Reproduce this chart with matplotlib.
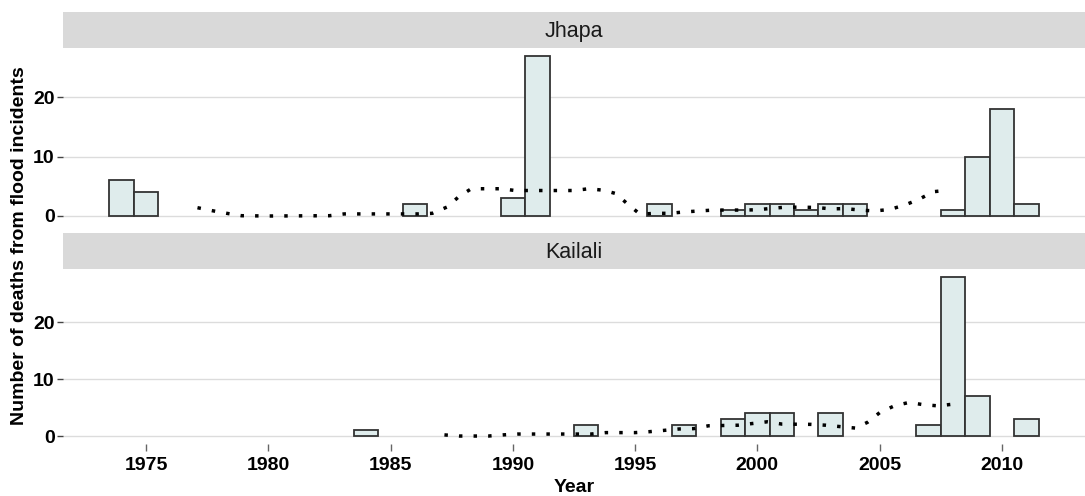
import matplotlib
matplotlib.use('Agg')
import matplotlib.pyplot as plt

plt.rcParams['font.family'] = ['Liberation Sans', 'DejaVu Sans']

# Deaths per year
jhapa_years = [1974, 1975, 1986, 1990, 1991, 1996, 1999, 2000, 2001, 2002, 2003, 2004, 2008, 2009, 2010, 2011]
jhapa_deaths = [6, 4, 2, 3, 27, 2, 1, 2, 2, 1, 2, 2, 1, 10, 18, 2]

kailali_years = [1984, 1993, 1997, 1999, 2000, 2001, 2003, 2007, 2008, 2009, 2011]
kailali_deaths = [1, 2, 2, 3, 4, 4, 4, 2, 28, 7, 3]

# Dotted trend lines
jhapa_trend_x = [1977.1, 1977.7, 1978.3, 1978.9, 1980.0, 1982.5, 1983.1, 1986.1, 1986.7,
                 1987.3, 1987.8, 1988.3, 1989.5, 1990.1, 1992.5, 1993.1, 1993.7, 1994.2,
                 1994.7, 1995.2, 1995.8, 1996.4, 1997.0, 1997.6, 1998.2, 1999.4, 2000.0,
                 2000.6, 2001.2, 2002.4, 2003.0, 2003.6, 2004.2, 2004.8, 2005.4, 2006.0,
                 2006.6, 2007.2, 2007.8]
jhapa_trend_y = [1.4, 0.9, 0.45, 0.05, 0.0, 0.05, 0.35, 0.35, 0.45,
                 1.5, 3.3, 4.6, 4.6, 4.3, 4.3, 4.6, 4.35, 3.8,
                 2.0, 0.3, 0.45, 0.45, 0.68, 0.85, 1.0, 1.0, 1.05,
                 1.3, 1.5, 1.45, 1.2, 1.25, 1.0, 0.85, 1.1, 1.8,
                 2.8, 4.1, 4.35]

kailali_trend_x = [1987.2, 1987.8, 1989.0, 1989.6, 1990.2, 1992.6, 1993.2, 1993.8, 1995.0,
                   1995.6, 1996.2, 1996.8, 1997.4, 1998.0, 1999.2, 1999.8, 2000.4, 2001.0,
                   2002.2, 2002.8, 2003.4, 2004.0, 2004.5, 2005.0, 2005.6, 2006.2, 2006.8,
                   2007.4, 2008.0]
kailali_trend_y = [0.2, 0.0, 0.0, 0.2, 0.35, 0.35, 0.35, 0.6, 0.6,
                   0.77, 1.0, 1.24, 1.3, 1.8, 1.9, 2.2, 2.5, 2.1,
                   2.05, 1.9, 1.65, 1.4, 2.4, 4.1, 5.3, 5.9, 5.5,
                   5.3, 5.6]

districts = ['Jhapa', 'Kailali']
year_ticks = [1975, 1980, 1985, 1990, 1995, 2000, 2005, 2010]
y_ticks = [0, 10, 20]

W, H = 1085, 496
fig = plt.figure(figsize=(W / 100, H / 100), dpi=100)

# panel boxes in pixels: (top of strip, top of panel, bottom of panel)
panels = [(12, 48, 224), (232.7, 268.7, 444)]
left, right = 63, 1085

data = [(jhapa_years, jhapa_deaths, jhapa_trend_x, jhapa_trend_y),
        (kailali_years, kailali_deaths, kailali_trend_x, kailali_trend_y)]

xmin_d = min(jhapa_years + kailali_years) - 0.5
xmax_d = max(jhapa_years + kailali_years) + 0.5
pad = 0.05 * (xmax_d - xmin_d)

for i, (name, (strip_top, ptop, pbot), (yrs, vals, tx, ty)) in enumerate(zip(districts, panels, data)):
    ax = fig.add_axes([left / W, 1 - pbot / H, (right - left) / W, (pbot - ptop) / H])
    ax.bar(yrs, vals, width=1, color='#dfecec', edgecolor='#333333', linewidth=1.3, zorder=2)
    ax.plot(tx, ty, color='black', linewidth=2.5, linestyle=(0, (1, 3.2)),
            dash_capstyle='butt', zorder=3)

    top = max(vals)
    ax.set_ylim(-0.05 * top, 1.05 * top)
    ax.set_xlim(xmin_d - pad, xmax_d + pad)
    ax.set_yticks(y_ticks)
    ax.set_yticklabels([str(v) for v in y_ticks], fontsize=14, fontweight='bold')
    ax.grid(axis='y', color='#dcdcdc', linewidth=1.0, zorder=0)
    ax.set_axisbelow(True)
    for s in ax.spines.values():
        s.set_visible(False)
    ax.tick_params(axis='y', length=4, width=1, color='#444444', pad=2)
    ax.set_xticks(year_ticks)
    if i == len(districts) - 1:
        ax.set_xticklabels([str(y) for y in year_ticks], fontsize=14, fontweight='bold')
        ax.tick_params(axis='x', length=5, width=1, color='#666666', pad=4)
    else:
        ax.tick_params(axis='x', length=0, labelbottom=False)

    # facet strip
    sax = fig.add_axes([left / W, 1 - ptop / H, (right - left) / W, (ptop - strip_top) / H])
    sax.set_facecolor('#d9d9d9')
    sax.set_xticks([])
    sax.set_yticks([])
    for s in sax.spines.values():
        s.set_visible(False)
    sax.text(0.5, 0.45, name, transform=sax.transAxes, ha='center', va='center',
             fontsize=15.5, color='#1a1a1a')

fig.text(20 / W, 1 - 246 / H, 'Number of deaths from flood incidents', rotation=90,
         ha='center', va='center', fontsize=14, fontweight='bold')
fig.text((left + right) / 2 / W, 1 - 487 / H, 'Year', ha='center', va='center',
         fontsize=14, fontweight='bold')

fig.savefig('out.png', dpi=100)
